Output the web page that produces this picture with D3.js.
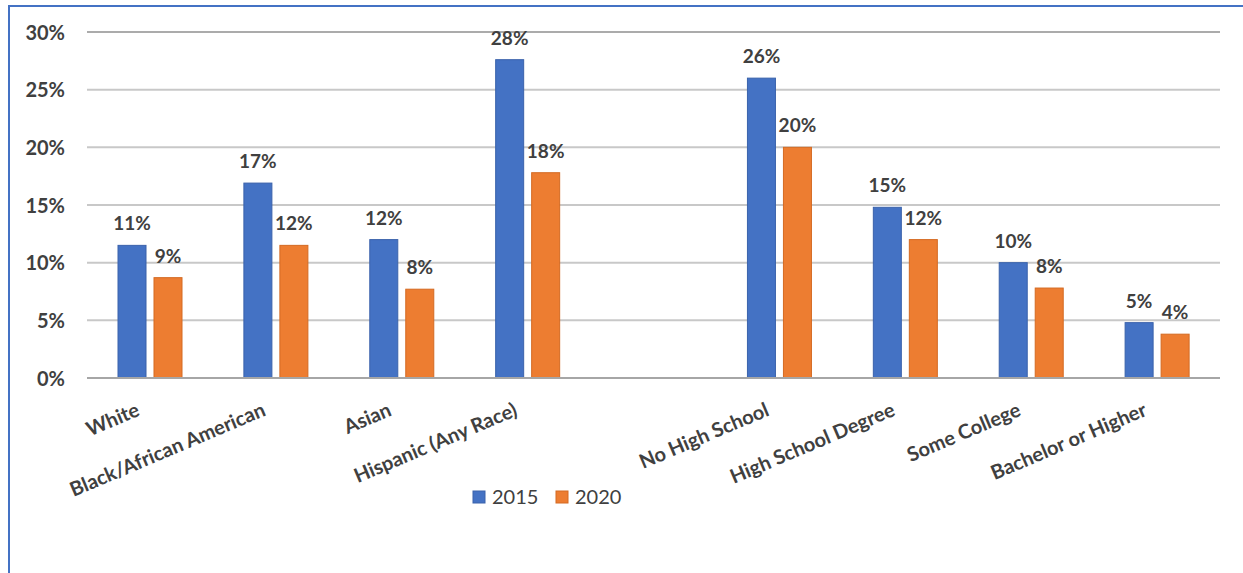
<!DOCTYPE html>
<html>
<head>
<meta charset="utf-8">
<script src="https://d3js.org/d3.v7.min.js"></script>
<style>
  html, body { margin: 0; padding: 0; background: #fff; }
  text { font-family: Lato, "Open Sans", sans-serif; fill: #404040; }
</style>
</head>
<body>
<div id="chart"></div>
<script>
// Datos
const categories = ["White", "Black/African American", "Asian", "Hispanic (Any Race)",
    "No High School", "High School Degree", "Some College", "Bachelor or Higher"];
const slots = ["White", "Black/African American", "Asian", "Hispanic (Any Race)", "__gap__",
    "No High School", "High School Degree", "Some College", "Bachelor or Higher"];
const series = ["2015", "2020"];
const values2015 = [0.115, 0.169, 0.120, 0.276, 0.260, 0.148, 0.100, 0.048];
const values2020 = [0.087, 0.115, 0.077, 0.178, 0.200, 0.120, 0.078, 0.038];
const labels2015 = ["11%", "17%", "12%", "28%", "26%", "15%", "10%", "5%"];
const labels2020 = ["9%", "12%", "8%", "18%", "20%", "12%", "8%", "4%"];
const yTicks = [0, 0.05, 0.10, 0.15, 0.20, 0.25, 0.30];

const width = 1243, height = 573;
const colors = { "2015": "#4472C4", "2020": "#ED7D31" };
const strokes = { "2015": "#3A62AB", "2020": "#D46A22" };

const svg = d3.select("#chart").append("svg")
    .attr("width", width)
    .attr("height", height);

// Marco azul (solo arriba y a la izquierda)
svg.append("line").attr("x1", 8).attr("x2", width).attr("y1", 6).attr("y2", 6)
    .attr("stroke", "#4472C4").attr("stroke-width", 2);
svg.append("line").attr("x1", 9).attr("x2", 9).attr("y1", 5).attr("y2", height)
    .attr("stroke", "#4472C4").attr("stroke-width", 2);

const x = d3.scaleBand().domain(slots).range([87, 1220]).padding(0);
const x1 = d3.scaleBand().domain(series).range([31, 95]).paddingInner(0.222).paddingOuter(0);
const y = d3.scaleLinear().domain([0, 0.30]).range([378, 32]);

// Líneas de cuadrícula
svg.append("g")
    .selectAll("line")
    .data(yTicks.filter(d => d > 0))
    .join("line")
    .attr("x1", 87).attr("x2", 1220)
    .attr("y1", d => y(d)).attr("y2", d => y(d))
    .attr("stroke", d => d >= 0.30 ? "#ABABAB" : "#C8C8C8")
    .attr("stroke-width", 2);

// Eje Y
const yAxis = svg.append("g")
    .attr("transform", "translate(65,0)")
    .call(d3.axisLeft(y).tickValues(yTicks).tickFormat(d3.format(".0%")).tickSize(0).tickPadding(0));
yAxis.select(".domain").remove();
yAxis.selectAll("text")
    .attr("dy", "0.35em")
    .style("font-size", "20px")
    .style("font-weight", "bold")
    .style("font-family", "Lato, sans-serif")
    .style("fill", "#404040");

const rows = categories.map((c, i) => ({
    cat: c,
    vals: [
        { key: "2015", v: values2015[i], label: labels2015[i] },
        { key: "2020", v: values2020[i], label: labels2020[i] }
    ]
}));

const groups = svg.append("g")
    .selectAll("g")
    .data(rows)
    .join("g")
    .attr("transform", d => `translate(${x(d.cat)},0)`);

groups.selectAll("rect")
    .data(d => d.vals)
    .join("rect")
    .attr("x", d => x1(d.key))
    .attr("width", x1.bandwidth())
    .attr("y", d => y(d.v))
    .attr("height", d => y(0) - y(d.v))
    .attr("fill", d => colors[d.key])
    .attr("stroke", d => strokes[d.key])
    .attr("stroke-width", 1);

groups.selectAll("text.val")
    .data(d => d.vals)
    .join("text")
    .attr("class", "val")
    .attr("x", d => x1(d.key) + x1.bandwidth() / 2)
    .attr("y", d => y(d.v) - 15)
    .attr("text-anchor", "middle")
    .style("font-size", "19px")
    .style("font-weight", "bold")
    .text(d => d.label);

// Línea base
svg.append("line")
    .attr("x1", 87).attr("x2", 1220)
    .attr("y1", y(0)).attr("y2", y(0))
    .attr("stroke", "#A6A6A6").attr("stroke-width", 2);

// Etiquetas del eje X (rotadas)
svg.append("g")
    .selectAll("text")
    .data(categories)
    .join("text")
    .attr("transform", d => `translate(${x(d) + x.bandwidth() / 2 - 9},415) rotate(-23)`)
    .attr("text-anchor", "end")
    .style("font-size", "20px")
    .style("font-weight", "bold")
    .text(d => d);

// Leyenda
const legend = svg.append("g").attr("transform", "translate(473,0)");
series.forEach((s, i) => {
    const gx = i * 83;
    legend.append("rect")
        .attr("x", gx).attr("y", 491)
        .attr("width", 12).attr("height", 12)
        .attr("fill", colors[s])
        .attr("stroke", strokes[s]);
    legend.append("text")
        .attr("x", gx + 19).attr("y", 504)
        .style("font-size", "20px")
        .text(s);
});
</script>
</body>
</html>
